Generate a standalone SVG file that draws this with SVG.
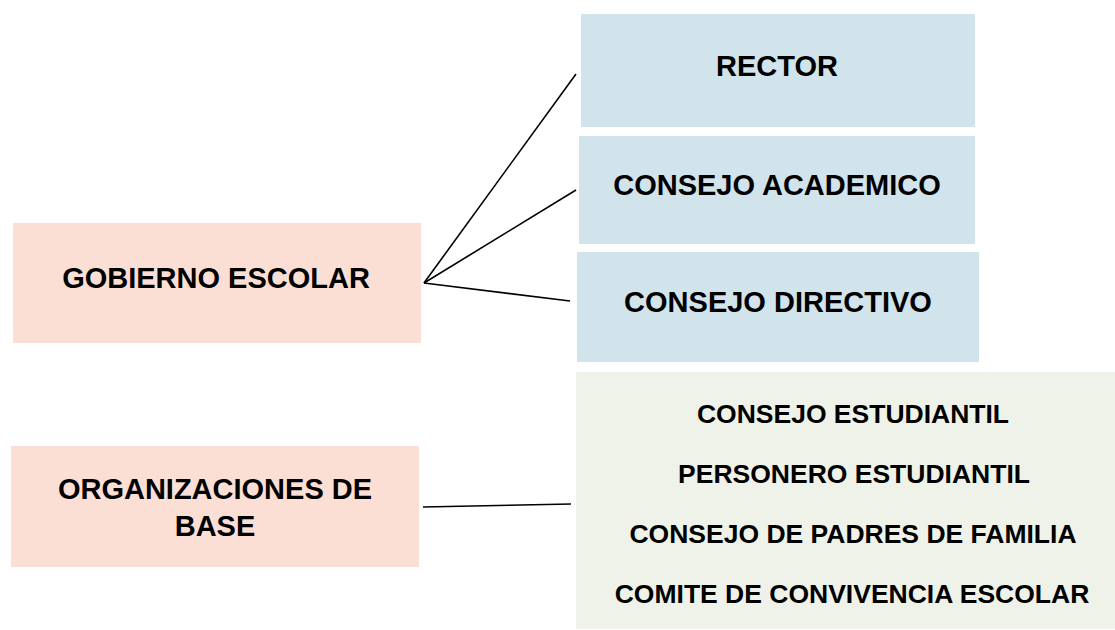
<svg xmlns="http://www.w3.org/2000/svg" width="1115" height="630" viewBox="0 0 1115 630">
<style>
.t{font-family:"Liberation Sans",Arial,sans-serif;font-weight:bold;fill:#000;text-anchor:middle}
.big{font-size:29px}
.sm{font-size:26.5px}
.pink{fill:#FCDFD4}
.blue{fill:#D1E3EB}
.green{fill:#EFF2E9}
.c{stroke:#000;stroke-width:1.6;fill:none}
</style>
<rect width="1115" height="630" fill="#fff"/>
<g id="gobierno">
<rect class="pink" x="13" y="223" width="408" height="120"/>
<text class="t big" x="216" y="288">GOBIERNO ESCOLAR</text>
</g>
<g id="organizaciones">
<rect class="pink" x="11" y="446" width="408" height="121"/>
<text class="t big" x="215" y="499">ORGANIZACIONES DE</text>
<text class="t big" x="215" y="536">BASE</text>
</g>
<g id="rector">
<rect class="blue" x="581" y="14" width="394" height="113"/>
<text class="t big" x="777" y="76">RECTOR</text>
</g>
<g id="academico">
<rect class="blue" x="579" y="136" width="396" height="108"/>
<text class="t big" x="777" y="195">CONSEJO ACADEMICO</text>
</g>
<g id="directivo">
<rect class="blue" x="577" y="252" width="402" height="110"/>
<text class="t big" x="778" y="312">CONSEJO DIRECTIVO</text>
</g>
<g id="base-list">
<rect class="green" x="576" y="372" width="539" height="257"/>
<text class="t sm" x="853" y="423">CONSEJO ESTUDIANTIL</text>
<text class="t sm" x="854" y="483">PERSONERO ESTUDIANTIL</text>
<text class="t sm" x="853" y="543">CONSEJO DE PADRES DE FAMILIA</text>
<text class="t sm" x="852" y="603">COMITE DE CONVIVENCIA ESCOLAR</text>
</g>
<g id="connectors">
<line class="c" x1="424" y1="283" x2="576" y2="74"/>
<line class="c" x1="424" y1="283" x2="576" y2="190"/>
<line class="c" x1="424" y1="283" x2="570" y2="301"/>
<line class="c" x1="423" y1="507" x2="571" y2="504"/>
</g>
</svg>
